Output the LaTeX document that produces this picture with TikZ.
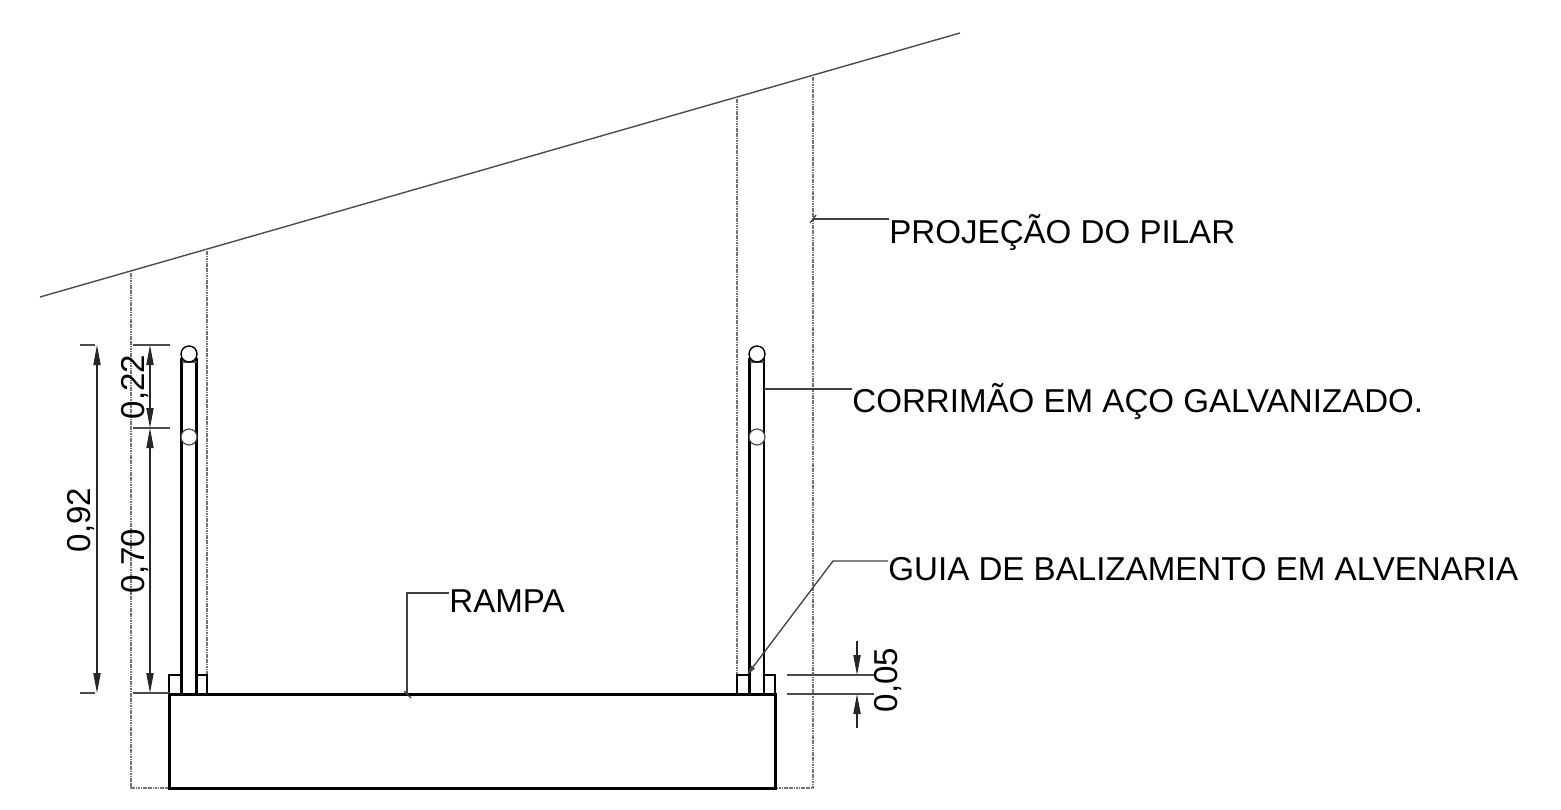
\documentclass[tikz,border=0pt]{standalone}
\usepackage{fontspec}
\setmainfont{Liberation Sans}
\usetikzlibrary{arrows.meta}
\tikzset{
        x=0.5pt, y=-0.5pt,
        wall/.style={draw=black, line width=1.5pt},
        rail/.style={draw=black, line width=1.1pt},
        thin line/.style={draw=black!70, line width=0.7pt},
        hidden/.style={draw=black!55, line width=0.7pt, dash pattern=on 0.6pt off 0.25pt},
        leader/.style={draw=black!75, line width=0.65pt},
        dim/.style={draw=black!85, line width=0.55pt, {Triangle[length=10pt,width=3.6pt]}-{Triangle[length=10pt,width=3.6pt]}},
        dimtick/.style={draw=black!70, line width=0.6pt},
        dimhalf/.style={draw=black!85, line width=0.55pt, -{Triangle[length=10pt,width=3.6pt]}},
        label/.style={font=\fontsize{16.55}{18}\selectfont, anchor=base west, inner sep=0pt, text=black},
        dimlabel/.style={font=\fontsize{16.55}{18}\selectfont, rotate=90, anchor=base, inner sep=0pt, text=black},
        ringnode/.style={circle, draw=black, line width=0.7pt, fill=white, minimum size=8pt, inner sep=0pt},
        lowring/.style={ringnode, draw=black!70, line width=0.6pt}
          }
\begin{document}
\begin{tikzpicture}
  \useasboundingbox (0,0) rectangle (1561,809);
  % roof
  \coordinate (roofL) at (40,297);
  \coordinate (roofR) at (960,33);
  \draw[thin line] (roofL) -- (roofR);
  % pillar projections
  \draw[hidden] (131,271) -- (131,788) -- (169,788);
  \draw[hidden] (207,249) -- (207,675);
  \draw[hidden] (737,97) -- (737,675);
  \draw[hidden] (813,75) -- (813,788) -- (775,788);
  % ramp and curbs
  \draw[wall] (169,694) rectangle (775,788);
  \draw[rail] (169,694) -- (169,675) -- (181,675);
  \draw[rail] (196,675) -- (207,675) -- (207,694);
  \draw[rail] (737,694) -- (737,675) -- (749,675);
  \draw[rail] (764,675) -- (775,675) -- (775,694);
  % handrails
  \draw[wall] (181.5,694) -- (181.5,358);
  \draw[rail] (196.5,694) -- (196.5,358);
  \draw[rail] (749.5,694) -- (749.5,358);
  \draw[rail] (764,694) -- (764,358);
  \draw[thin line] (181.5,362) -- (196.5,362);
  \draw[thin line] (749.5,362) -- (764,362);
  \node[ringnode] (ringA) at (189,354) {};
  \node[lowring] (ringB) at (189,437) {};
  \node[ringnode] (ringC) at (757,354) {};
  \node[lowring] (ringD) at (757,437) {};
  % dimensions
  \draw[dimtick] (80,345) -- (95,345);
  \draw[dimtick] (80,693) -- (95,693);
  \draw[dimtick] (133,345) -- (170,345);
  \draw[dimtick] (133,428) -- (170,428);
  \draw[dimtick] (133,693) -- (169,693);
  \draw[dim] (97,345) -- (97,693);
  \draw[dim] (150,345) -- (150,428);
  \draw[dim] (150,428) -- (150,693);
  \draw[dimtick] (787,675) -- (874,675);
  \draw[dimtick] (787,694) -- (874,694);
  \draw[dimhalf] (857,641) -- (857,675);
  \draw[dimhalf] (857,728) -- (857,694);
  \node[dimlabel] (dimA) at (90,520) {0,92};
  \node[dimlabel] (dimB) at (144,387) {0,22};
  \node[dimlabel] (dimC) at (144,561) {0,70};
  \node[dimlabel] (dimD) at (897,680) {0,05};
  % labels
  \node[label] (pilar) at (889,243) {PROJEÇÃO DO PILAR};
  \node[label] (corrimao) at (852,412) {CORRIMÃO EM AÇO GALVANIZADO.};
  \node[label] (guia) at (888,580) {GUIA DE BALIZAMENTO EM ALVENARIA};
  \node[label] (rampa) at (449,612) {RAMPA};
  % leaders
  \coordinate (pilarEnd) at (813,219);
  \coordinate (railEnd) at (764,389);
  \coordinate (guiaEnd) at (747,675);
  \coordinate (rampaEnd) at (407,694);
  \draw[leader] (pilarEnd) -- (pilar.base west |- pilarEnd);
  \draw[leader] (railEnd) -- (corrimao.base west |- railEnd);
  \draw[leader, -{Triangle[length=5pt,width=2.4pt]}] (guia.base west |- 0,561) -- (833,561) -- (guiaEnd);
  \draw[leader] (rampaEnd) -- (407,593) -- (rampa.base west |- 0,593);
  % oblique ticks
  \draw[leader] (pilarEnd) ++(-3,4) -- ++(6,-8);
  \draw[leader] (rampaEnd) ++(-3,-3) -- ++(7,7);
\end{tikzpicture}
\end{document}
